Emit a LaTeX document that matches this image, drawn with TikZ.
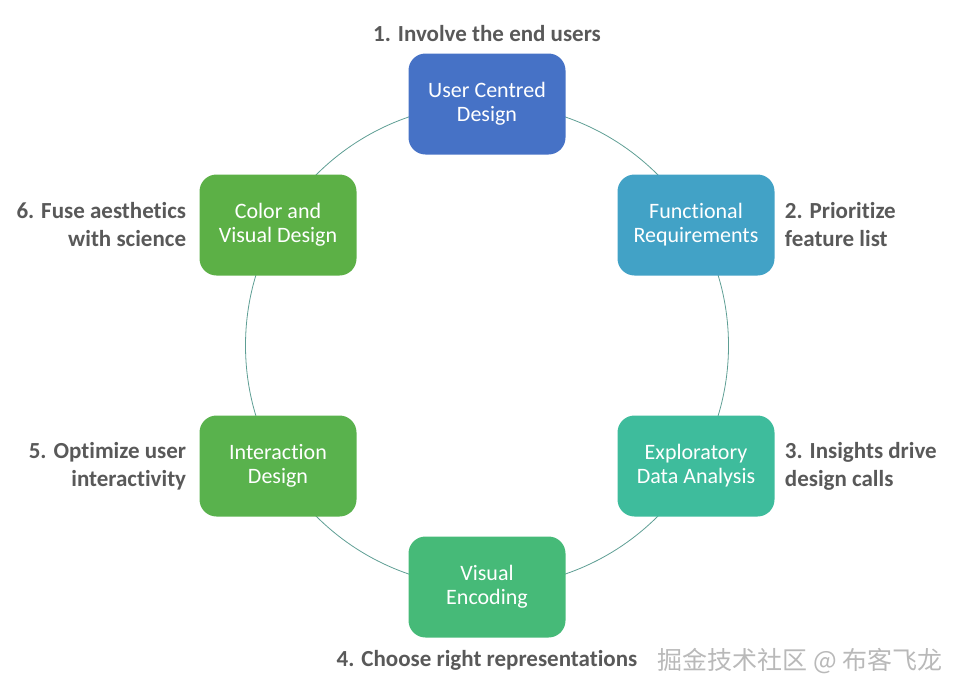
\documentclass[tikz,border=0pt]{standalone}
\usepackage{fontspec}
\setmainfont{Carlito}[Ligatures=NoCommon]
\newfontfamily\cjkfont{Noto Sans CJK SC}
\usetikzlibrary{positioning}
\definecolor{ucdblue}{HTML}{4672C6}
\definecolor{funcblue}{HTML}{42A2C6}
\definecolor{edateal}{HTML}{3EBC9C}
\definecolor{encgreen}{HTML}{46BA78}
\definecolor{intgreen}{HTML}{59B24D}
\definecolor{colgreen}{HTML}{5CB046}
\definecolor{labelgray}{HTML}{595959}
\definecolor{ringline}{HTML}{5E9E94}

\begin{document}
\begin{tikzpicture}[x=1pt,y=-1pt,
    stage/.style={rounded corners=17pt, minimum width=157pt, minimum height=101pt,
        align=center, text=white, font=\fontsize{22}{24}\selectfont},
    tip/.style={text=labelgray, inner sep=0pt, font=\bfseries\fontsize{23}{28}\selectfont}]
        \useasboundingbox (0,0) rectangle (964,699);
        \draw[color=ringline, line width=0.8pt] (487,345.5) circle [radius=241.5pt];
        % the six stages
        \node[stage, fill=ucdblue] (ucd) at (487,104) {User Centred\\Design};
        \node[stage, fill=funcblue] (func) at (696,225) {Functional\\Requirements};
        \node[stage, fill=edateal] (eda) at (696,466) {Exploratory\\Data Analysis};
        \node[stage, fill=encgreen] (enc) at (487,587) {Visual\\Encoding};
        \node[stage, fill=intgreen] (inter) at (278,466) {Interaction\\Design};
        \node[stage, fill=colgreen] (col) at (278,225) {Color and\\Visual Design};
        % labels
        \node[tip, above=11pt of ucd] (tip1) {1. Involve the end users};
        \node[tip, right=10pt of func, align=left] (tip2) {2. Prioritize\\feature list};
        \node[tip, right=10pt of eda, align=left] (tip3) {3. Insights drive\\design calls};
        \node[tip, below=12pt of enc] (tip4) {4. Choose right representations};
        \node[tip, left=13pt of inter, align=right] (tip5) {5. Optimize user\\interactivity};
        \node[tip, left=13pt of col, align=right] (tip6) {6. Fuse aesthetics\\with science};
        \node[inner sep=0pt, text=gray!55, font=\cjkfont\fontsize{25}{25}\selectfont] (wm) at (800,661) {掘金技术社区 @ 布客飞龙};
    \end{tikzpicture}
\end{document}
